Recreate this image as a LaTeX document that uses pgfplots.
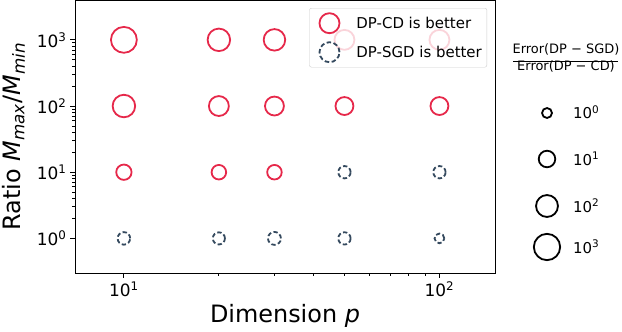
\documentclass[border=0pt]{standalone}
\usepackage{pgfplots}
\pgfplotsset{compat=1.18}
\usepackage{fontspec}
\setmainfont{DejaVu Sans}
\definecolor{dpcd}{HTML}{E6284A}
\definecolor{dpsgd}{HTML}{34495E}
\newcommand{\tp}[1]{10\textsuperscript{#1}}
\begin{document}
\begin{tikzpicture}
\useasboundingbox (-75bp,-59bp) rectangle (547bp,273bp);
\begin{axis}[
  at={(0,0)}, anchor=south west,
  scale only axis, width=420bp, height=273bp,
  xmode=log, ymode=log,
  xmin=7, xmax=150, ymin=0.3, ymax=4000,
  xtick={10,100}, xticklabels={\tp{1},\tp{2}},
  ytick={1,10,100,1000}, yticklabels={\tp{0},\tp{1},\tp{2},\tp{3}},
  tick align=outside, tick pos=left,
  major tick length=5bp, minor tick length=3bp,
  every tick/.style={black, line width=0.8bp},
  axis line style={line width=1bp, black},
  ticklabel style={font=\fontsize{17}{20}\selectfont},
  xlabel={Dimension \textit{p}},
  ylabel={Ratio \textit{M}\textsubscript{\textit{max}}/\textit{M}\textsubscript{\textit{min}}},
  label style={font=\fontsize{24}{28}\selectfont, inner sep=0pt},
  xlabel style={at={(axis description cs:0.5,0)}, anchor=base, yshift=-49bp},
  ylabel style={at={(axis description cs:-0.119,0.5)}, anchor=south},
  legend style={at={(axis description cs:1,1)}, anchor=north east, xshift=-8bp, yshift=-8bp,
    draw=black!20, rounded corners=2bp, fill=white, fill opacity=0.8, text opacity=1,
    font=\fontsize{15}{18}\selectfont, row sep=5bp, inner sep=3bp},
  legend cell align=left,
  legend image code/.code={\path[draw=none,fill=none] (-17bp,-12bp) rectangle (25bp,12bp); \draw[#1] plot coordinates {(0bp,0bp)};},
  clip=false,
]
\addlegendimage{only marks, mark=o, mark size=10bp, draw=dpcd, line width=1.8bp}
\addlegendentry{DP-CD is better}
\addlegendimage{only marks, mark=o, mark size=10bp, draw=dpsgd, line width=1.8bp, mark options={dash pattern=on 4.5bp off 2.5bp}}
\addlegendentry{DP-SGD is better}
\addplot[forget plot, scatter, only marks, mark=o, line width=1.8bp,
  scatter/use mapped color={draw=dpcd},
  visualization depends on={\thisrow{r} \as \perpointmarksize},
  scatter/@pre marker code/.append style={/tikz/mark size=\perpointmarksize}]
  table {
x y r
10 1000 13
20 1000 11.3
30 1000 10.8
50 1000 10
100 1000 10
10 100 11.3
20 100 10
30 100 9.5
50 100 9
100 100 9
10 10 7.7
20 10 7.3
30 10 7.3
};
\addplot[forget plot, scatter, only marks, mark=o, line width=1.8bp,
  scatter/use mapped color={draw=dpsgd},
  mark options={dash pattern=on 4.3bp off 2.5bp},
  visualization depends on={\thisrow{r} \as \perpointmarksize},
  scatter/@pre marker code/.append style={/tikz/mark size=\perpointmarksize}]
  table {
x y r
50 10 6.2
100 10 6.2
10 1 6.3
20 1 6.1
30 1 6.5
50 1 6.2
100 1 4.9
};
\end{axis}
\begin{axis}[
  at={(420bp,-59bp)}, anchor=south west,
  scale only axis, width=127bp, height=332bp,
  xmin=495, xmax=622, ymin=0, ymax=332, y dir=reverse,
  hide axis, clip=false,
]
\addplot[scatter, only marks, mark=o, line width=1.8bp,
  scatter/use mapped color={draw=black},
  visualization depends on={\thisrow{r} \as \perpointmarksize},
  scatter/@pre marker code/.append style={/tikz/mark size=\perpointmarksize}]
  table {
x y r
547 113 5
547 159 8.3
547 206 11
547 247 13.2
};
\node[anchor=base west, font=\fontsize{15}{18}\selectfont, inner sep=0pt] at (axis cs:573,119) {\tp{0}};
\node[anchor=base west, font=\fontsize{15}{18}\selectfont, inner sep=0pt] at (axis cs:573,165) {\tp{1}};
\node[anchor=base west, font=\fontsize{15}{18}\selectfont, inner sep=0pt] at (axis cs:573,212) {\tp{2}};
\node[anchor=base west, font=\fontsize{15}{18}\selectfont, inner sep=0pt] at (axis cs:573,253) {\tp{3}};
\node[anchor=base, font=\fontsize{13}{15}\selectfont, inner sep=0pt] at (axis cs:566,54) {Error(DP − SGD)};
\node[anchor=base, font=\fontsize{13}{15}\selectfont, inner sep=0pt] at (axis cs:566,71) {Error(DP − CD)};
\draw[line width=1bp] (axis cs:513,61.5) -- (axis cs:618,61.5);
\end{axis}
\end{tikzpicture}
\end{document}
